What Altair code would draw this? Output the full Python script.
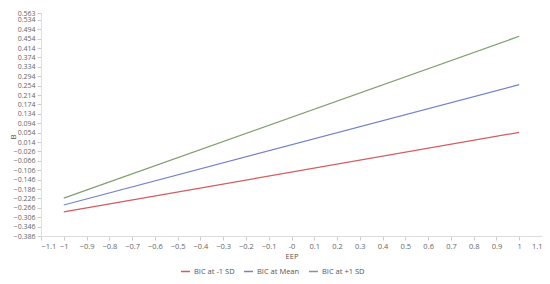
import altair as alt
import pandas as pd

series = ["BIC at -1 SD", "BIC at Mean", "BIC at +1 SD"]
colors = ["#d45b5f", "#7482c8", "#7f9e72"]
eep = [-1, 1]
b_low = [-0.283, 0.055]
b_mean = [-0.254, 0.258]
b_high = [-0.225, 0.464]

rows = []
for s, vals in zip(series, [b_low, b_mean, b_high]):
    for x, y in zip(eep, vals):
        rows.append({"EEP": x, "B": y, "series": s})
df = pd.DataFrame(rows)

x_ticks = [round(-1.1 + 0.1 * i, 1) for i in range(23)]
y_ticks = [round(-0.386 + 0.04 * i, 3) for i in range(24)] + [0.563]

font = "Open Sans"
H = 223

line = alt.Chart(df).mark_line(strokeWidth=1.2).encode(
    x=alt.X("EEP:Q", title="EEP",
            scale=alt.Scale(domain=[-1.1, 1.1], nice=False, zero=False),
            axis=alt.Axis(values=x_ticks, grid=False, labelOverlap=False,
                          labelExpr="datum.value == 0 ? '-0' : format(datum.value, '.1~f')",
                          domainColor="#dddddd", tickColor="#cccccc", tickSize=4,
                          labelColor="#666666", labelFontSize=7.5, labelFont=font,
                          titleFont=font, titleFontSize=7.5, titleFontWeight="normal",
                          titleColor="#555555", titlePadding=3)),
    y=alt.Y("B:Q", title="B",
            scale=alt.Scale(domain=[-0.386, 0.563], nice=False, zero=False),
            axis=alt.Axis(values=y_ticks, grid=False, format=".3f", labelOverlap=False,
                          domainColor="#dddddd", tickColor="#cccccc", tickSize=4,
                          labelPadding=2, labelFlush=False,
                          labelColor="#666666", labelFontSize=7, labelFont=font,
                          titleFont=font, titleFontSize=8, titleFontWeight="normal",
                          titleColor="#555555", titleX=-24, titleY=H / 2 + 12)),
    color=alt.Color("series:N", title=None,
                    scale=alt.Scale(domain=series, range=colors),
                    legend=alt.Legend(orient="none", legendX=139, legendY=253,
                                      direction="horizontal", symbolType="stroke",
                                      symbolStrokeWidth=1.5, symbolSize=80,
                                      labelFont=font, labelFontSize=7.5,
                                      labelColor="#555555", columnPadding=6,
                                      labelOffset=3)),
)

chart = line.properties(
    width=501, height=H,
    autosize=alt.AutoSizeParams(type="none"),
    padding={"left": 33, "top": 5, "right": 0, "bottom": 40},
).configure_view(stroke=None)

chart.save("out.html", embed_options={"renderer": "svg", "actions": False})
